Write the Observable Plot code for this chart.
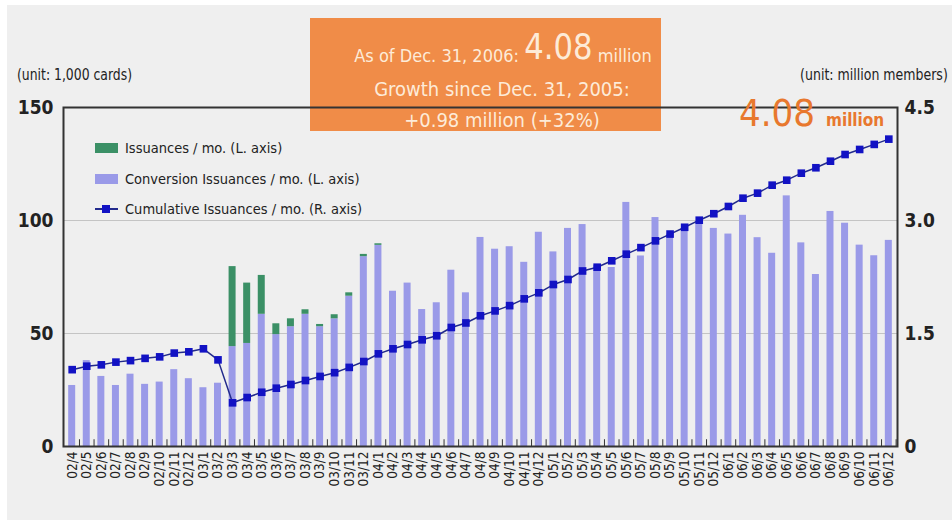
<!DOCTYPE html>
<html><head><meta charset="utf-8">
<script src="https://cdn.jsdelivr.net/npm/d3@7"></script>
<script src="https://cdn.jsdelivr.net/npm/@observablehq/plot@0.6"></script>
<style>
body{margin:0;background:#fff;}
#wrap{position:relative;width:952px;height:520px;overflow:hidden;font-family:"DejaVu Sans Condensed","DejaVu Sans",sans-serif;font-stretch:condensed;color:#222;}
#wrap svg, #wrap svg text{font-stretch:condensed;}
#panel{position:absolute;left:7px;top:5px;right:0;bottom:0;background:#efefef;}
#box{position:absolute;left:310px;top:18px;width:351px;height:113px;background:#f08c48;color:#fdebd8;}
.abs{position:absolute;white-space:nowrap;line-height:1;}
#chart{position:absolute;left:0;top:0;}
.sw{position:absolute;width:23px;height:10px;}
</style></head>
<body>
<div id="wrap">
  <div id="panel"></div>
  <div id="box">
    <div class="abs" style="left:33px;width:320px;text-align:center;top:15px;font-size:18.5px;transform:scaleX(0.975);">As of Dec. 31, 2006: <span style="font-size:35px;position:relative;top:-3px;">4.08</span> million</div>
    <div class="abs" style="left:42px;width:300px;text-align:center;top:61px;font-size:20px;">Growth since Dec. 31, 2005:</div>
    <div class="abs" style="left:42px;width:300px;text-align:center;top:92px;font-size:20px;">+0.98 million (+32%)</div>
  </div>
  <div class="abs" style="left:17px;top:68px;font-size:15px;transform:scaleX(0.92);transform-origin:left;">(unit: 1,000 cards)</div>
  <div class="abs" style="right:4px;top:68px;font-size:15px;transform:scaleX(0.93);transform-origin:right;">(unit: million members)</div>
  <div id="chart"></div>
  <div class="abs" style="left:739px;top:94px;color:#e8782e;font-size:38px;">4.08 <span style="font-size:17px;font-weight:bold;">million</span></div>
  <div class="sw" style="left:95px;top:143px;background:#3b9066;"></div>
  <div class="abs" style="left:125px;top:141px;font-size:14.5px;">Issuances / mo. (L. axis)</div>
  <div class="sw" style="left:95px;top:174px;background:#9a9ae8;"></div>
  <div class="abs" style="left:125px;top:172px;font-size:14.5px;">Conversion Issuances / mo. (L. axis)</div>
  <div class="abs" style="left:95px;top:208px;width:23px;height:2px;background:#222a8c;"></div>
  <div class="abs" style="left:102px;top:205px;width:8px;height:8px;background:#1212c4;"></div>
  <div class="abs" style="left:125px;top:202px;font-size:14.5px;">Cumulative Issuances / mo. (R. axis)</div>
</div>
<script>
const months = ["02/4","02/5","02/6","02/7","02/8","02/9","02/10","02/11","02/12",
  "03/1","03/2","03/3","03/4","03/5","03/6","03/7","03/8","03/9","03/10","03/11","03/12",
  "04/1","04/2","04/3","04/4","04/5","04/6","04/7","04/8","04/9","04/10","04/11","04/12",
  "05/1","05/2","05/3","05/4","05/5","05/6","05/7","05/8","05/9","05/10","05/11","05/12",
  "06/1","06/2","06/3","06/4","06/5","06/6","06/7","06/8","06/9","06/10","06/11","06/12"];
// Conversion issuances / mo. (1,000 cards, left axis)
const conversion = [27,38,31,27,32,27.5,28.5,34,30,
  26,28,44.2,45.6,58.5,49.5,53,58.5,53,56.5,66.5,84,
  89,68.7,72.3,60.6,63.6,78,68,92.5,87.3,88.4,81.5,94.8,
  86.1,96.5,98.2,80,79.2,108,84.3,101.3,94,96.5,99.5,96.5,
  94,102.3,92.4,85.5,110.9,90.1,76.1,104,98.8,89.1,84.4,91.2];
// New issuances / mo. (1,000 cards, left axis), stacked on top
const issuances = [0,0,0,0,0,0,0,0,0,
  0,0,35.4,26.7,17.2,4.8,3.5,2,1,1.8,1.5,1,
  0.7,0,0,0,0,0,0,0,0,0,0,0,
  0,0,0,0,0,0,0,0,0,0,0,0,
  0,0,0,0,0,0,0,0,0,0,0,0];
// Cumulative (million members, right axis)
const cumulative = [1.02,1.066,1.084,1.12,1.14,1.17,1.19,1.24,1.257,
  1.297,1.15,0.58,0.65,0.72,0.774,0.823,0.876,0.93,0.98,1.05,1.128,
  1.23,1.297,1.354,1.416,1.47,1.58,1.64,1.735,1.80,1.87,1.96,2.04,
  2.15,2.217,2.33,2.38,2.465,2.553,2.64,2.73,2.82,2.91,3.004,3.09,
  3.186,3.296,3.363,3.469,3.535,3.628,3.70,3.787,3.876,3.943,4.01,4.08];
const leftTicks = [0,50,100,150];
const rightTicks = [0,1.5,3.0,4.5];
const leftMax = 150, rightMax = 4.5;
const k = leftMax / rightMax;

const bars = months.flatMap((m,i)=>[
  {month:m, series:"Conversion", value:conversion[i]},
  {month:m, series:"Issuances", value:issuances[i]}
]);
const line = months.map((m,i)=>({month:m, v:cumulative[i]*k}));

const font = "'DejaVu Sans Condensed','DejaVu Sans',sans-serif";
const chart = Plot.plot({
  width:952, height:520,
  marginLeft:63, marginRight:55, marginTop:107, marginBottom:74,
  style:{background:"transparent", fontFamily:font, color:"#222", overflow:"visible"},
  x:{type:"band", domain:months, paddingInner:0.52, paddingOuter:0.355, label:null},
  y:{domain:[0,leftMax], label:null},
  color:{domain:["Conversion","Issuances"], range:["#9a9ae8","#3b9066"]},
  marks:[
    Plot.gridY([50,100], {stroke:"#c4c4c4", strokeOpacity:1}),
    Plot.barY(bars, {x:"month", y:"value", fill:"series", z:"series", order:["Conversion","Issuances"]}),
    Plot.line(line, {x:"month", y:"v", stroke:"#222a8c", strokeWidth:1.5}),
    Plot.dot(line, {x:"month", y:"v", symbol:"square", fill:"#1212c4", r:4.3}),
    Plot.ruleX(months, {x:d=>d, y1:0, y2:3, dx:7.3, stroke:"#333"}),
    Plot.axisX({tickRotate:-90, tickSize:0, tickPadding:5, fontSize:13.5, label:null}),
    Plot.axisY(leftTicks, {anchor:"left", tickSize:0, tickPadding:10, fontSize:19, fontWeight:"bold", label:null}),
    Plot.axisY(rightTicks.map(d=>d*k), {anchor:"right", tickSize:0, tickPadding:7, fontSize:19, fontWeight:"bold", label:null,
      tickFormat:d=> d===0 ? "0" : (d/k).toFixed(1)}),
    Plot.frame({stroke:"#333", strokeWidth:2})
  ]
});
document.getElementById("chart").appendChild(chart);
</script>
</body></html>
